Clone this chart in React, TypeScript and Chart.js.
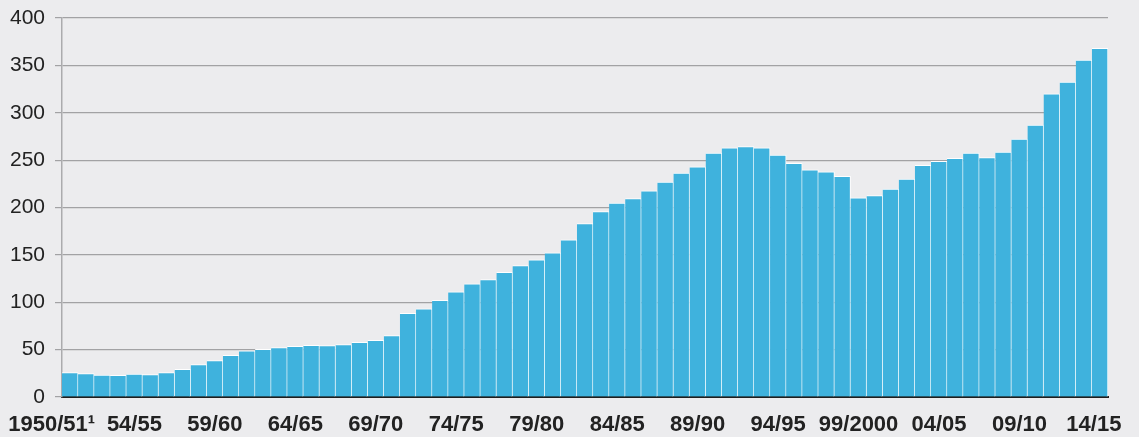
import React, { useEffect, useRef } from "react";
import { Chart, registerables } from "chart.js";

Chart.register(...registerables);

const categories: string[] = [
  "1950/51", "51/52", "52/53", "53/54", "54/55", "55/56", "56/57", "57/58", "58/59", "59/60",
  "60/61", "61/62", "62/63", "63/64", "64/65", "65/66", "66/67", "67/68", "68/69", "69/70",
  "70/71", "71/72", "72/73", "73/74", "74/75", "75/76", "76/77", "77/78", "78/79", "79/80",
  "80/81", "81/82", "82/83", "83/84", "84/85", "85/86", "86/87", "87/88", "88/89", "89/90",
  "90/91", "91/92", "92/93", "93/94", "94/95", "95/96", "96/97", "97/98", "98/99", "99/2000",
  "00/01", "01/02", "02/03", "03/04", "04/05", "05/06", "06/07", "07/08", "08/09", "09/10",
  "10/11", "11/12", "12/13", "13/14", "14/15",
];

const values: number[] = [
  25.7, 24.6, 23.2, 23.0, 24.3, 23.6, 25.7, 29.2, 34.2, 38.4,
  44.0, 48.6, 50.4, 52.1, 53.5, 54.6, 54.2, 55.3, 57.7, 59.9,
  64.8, 88.2, 93.0, 102.0, 110.9, 119.4, 123.9, 131.7, 138.7, 144.7,
  152.1, 165.8, 183.1, 195.8, 204.6, 209.5, 217.6, 226.8, 236.3, 243.0,
  257.4, 263.0, 264.4, 263.0, 255.2, 246.5, 239.8, 237.7, 232.8, 210.3,
  212.7, 219.4, 230.0, 244.4, 248.6, 251.8, 257.4, 252.8, 258.5, 272.2,
  287.0, 320.0, 332.4, 355.6, 368.0,
];

const shownTickLabels: string[] = [
  "1950/51", "54/55", "59/60", "64/65", "69/70", "74/75", "79/80",
  "84/85", "89/90", "94/95", "99/2000", "04/05", "09/10", "14/15",
];

const firstLabelSuffix = "\u00B9";

const yTicks: number[] = [0, 50, 100, 150, 200, 250, 300, 350, 400];

export default function App() {
  const canvasRef = useRef<HTMLCanvasElement | null>(null);

  useEffect(() => {
    const canvas = canvasRef.current;
    if (!canvas) return;
    const chart = new Chart(canvas, {
      type: "bar",
      data: {
        labels: categories,
        datasets: [
          {
            data: values,
            backgroundColor: "#3FB2DD",
            borderColor: "#FFFFFF",
            borderWidth: { top: 1, right: 1, left: 0, bottom: 0 } as any,
            borderSkipped: "bottom",
            barPercentage: 1,
            categoryPercentage: 1,
          },
        ],
      },
      options: {
        animation: false,
        responsive: true,
        maintainAspectRatio: false,
        layout: { padding: { top: 0, right: 31, left: 0, bottom: 0 } },
        plugins: { legend: { display: false }, tooltip: { enabled: false } },
        scales: {
          x: {
            z: 1,
            grid: { display: false, drawTicks: true, tickLength: 15 },
            border: { display: true, color: "#1E1E1E", width: 2 },
            ticks: {
              autoSkip: false,
              maxRotation: 0,
              minRotation: 0,
              padding: 0,
              color: "#222222",
              font: { family: "'Liberation Sans', Arial, sans-serif", size: 22, weight: "bold" },
              callback: (_v: any, idx: number) => {
                const c = categories[idx];
                if (!shownTickLabels.includes(c)) return "";
                if (idx === 0) return c + firstLabelSuffix + "\u00A0".repeat(6);
                if (idx === categories.length - 1) return c + "\u00A0\u00A0";
                return c;
              },
            },
            afterFit: (scale: any) => {
              scale.height = 40;
            },
          },
          y: {
            min: 0,
            max: 400,
            afterBuildTicks: (scale: any) => {
              scale.ticks = yTicks.map((v) => ({ value: v }));
            },
            grid: { color: "#A2A2A4", lineWidth: 1.2, tickLength: 7, drawTicks: true },
            border: { display: true, color: "#ABABAD", width: 1.5 },
            ticks: {
              padding: 10,
              color: "#222222",
              font: { family: "'Liberation Sans', Arial, sans-serif", size: 21 },
            },
            afterFit: (scale: any) => {
              scale.width = 62;
              scale.paddingTop = 18;
            },
          },
        },
      },
    });
    return () => chart.destroy();
  }, []);

  return (
    <div
      style={{
        position: "fixed",
        left: 0,
        top: 0,
        width: 1139,
        height: 437,
        background: "#ECECEE",
      }}
    >
      <canvas ref={canvasRef} />
    </div>
  );
}
